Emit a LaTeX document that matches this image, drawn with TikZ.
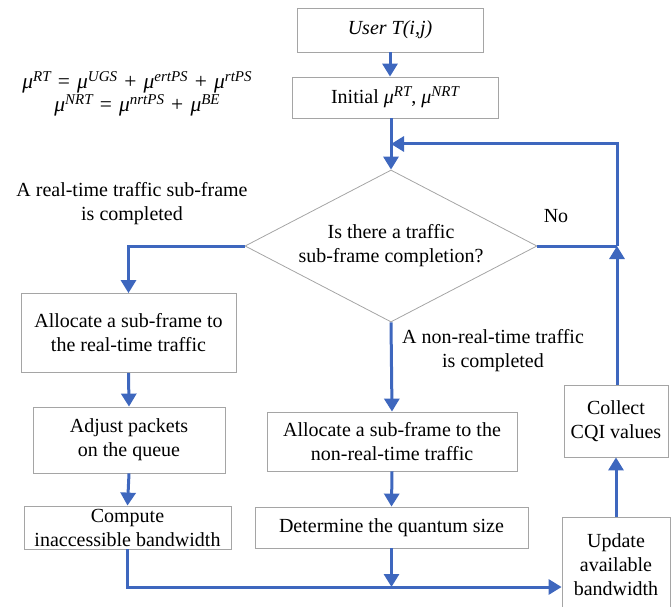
\documentclass[tikz,border=0pt]{standalone}
\usepackage{fontspec}
\setmainfont{Liberation Serif}
\usetikzlibrary{shapes.geometric,arrows.meta,calc}
\definecolor{flowblue}{RGB}{62,103,190}
\definecolor{boxgray}{RGB}{165,165,165}
\newcommand{\muvar}[1]{\textit{μ}\raisebox{0.75ex}{\fontsize{15}{15}\selectfont\itshape #1}}
\newcommand{\opsp}[1]{\,\,#1\,\,}
\begin{document}
\begin{tikzpicture}[x=1pt,y=-1pt,
  every node/.style={font=\fontsize{20}{24}\selectfont},
  box/.style={draw=boxgray,line width=0.8pt,rectangle,align=center,inner sep=0pt},
  flow/.style={draw=flowblue,line width=3pt,-{Triangle[width=15pt,length=13pt]}},
  plain/.style={draw=flowblue,line width=3pt}]
\useasboundingbox (0,0) rectangle (672,607);
\node[box,minimum width=186pt,minimum height=44pt] (user) at (390,30) {\itshape User T(i,j)};
\node[box,minimum width=206pt,minimum height=41pt] (init) at (395,97.5) {Initial \muvar{RT}, \muvar{NRT}};
\node[draw=boxgray,line width=0.8pt,diamond,aspect=1.92,inner sep=0pt,minimum width=292pt,minimum height=152pt,align=center] (dia) at (391,246) {Is there a traffic\\sub-frame completion?};
\node[box,minimum width=215pt,minimum height=79pt] (alloc1) at (128.5,333) {Allocate a sub-frame to\\the real-time traffic};
\node[box,minimum width=192pt,minimum height=66pt] (adjust) at (129,440) {Adjust packets\\on the queue};
\node[box,minimum width=207pt,minimum height=43pt] (compute) at (127.5,527.5) {Compute\\inaccessible bandwidth};
\node[box,minimum width=250pt,minimum height=59pt] (alloc2) at (392,441.5) {Allocate a sub-frame to the\\non-real-time traffic};
\node[box,minimum width=273pt,minimum height=41pt] (determine) at (391.5,527.5) {Determine the quantum size};
\node[box,minimum width=104pt,minimum height=72pt] (collect) at (616,421) {Collect\\CQI values};
\node[box,minimum width=108pt,minimum height=96pt] (update) at (616,565) {Update\\available\\bandwidth};
\node[align=center,font=\fontsize{21.5}{21}\selectfont] (eq) at (137,94) {\muvar{RT}\opsp{=}\muvar{UGS}\opsp{+}\muvar{ertPS}\opsp{+}\muvar{rtPS}\\\muvar{NRT}\opsp{=}\muvar{nrtPS}\opsp{+}\muvar{BE}};
\node[align=center] (lblrt) at (132,204) {A real-time traffic sub-frame\\is completed};
\node[align=center] (lblnrt) at (493,351) {A non-real-time traffic\\is completed};
\node (lblno) at (556,216) {No};
\coordinate (jr) at (617,246);
\coordinate (jt) at (391,144);
\coordinate (bot) at (391.5,587);
\draw[flow] (user.south) -- (user.south |- init.north);
\draw[flow] (init.south -| dia.north) -- (dia.north);
\draw[plain] (dia.east) -- (jr);
\draw[flow] (collect.north -| jr) -- (jr);
\draw[flow] (jr) |- (jt);
\draw[flow] (dia.west) -| (alloc1.north);
\draw[flow] (alloc1.south) -- (adjust.north);
\draw[flow] (adjust.south) -- (compute.north);
\draw[flow] (compute.south) |- (bot -| update.west);
\draw[flow] (determine.south) -- (bot);
\draw[flow] (dia.south) -- (alloc2.north);
\draw[flow] (alloc2.south) -- (determine.north);
\draw[flow] (update.north) -- (collect.south);
\end{tikzpicture}
\end{document}
